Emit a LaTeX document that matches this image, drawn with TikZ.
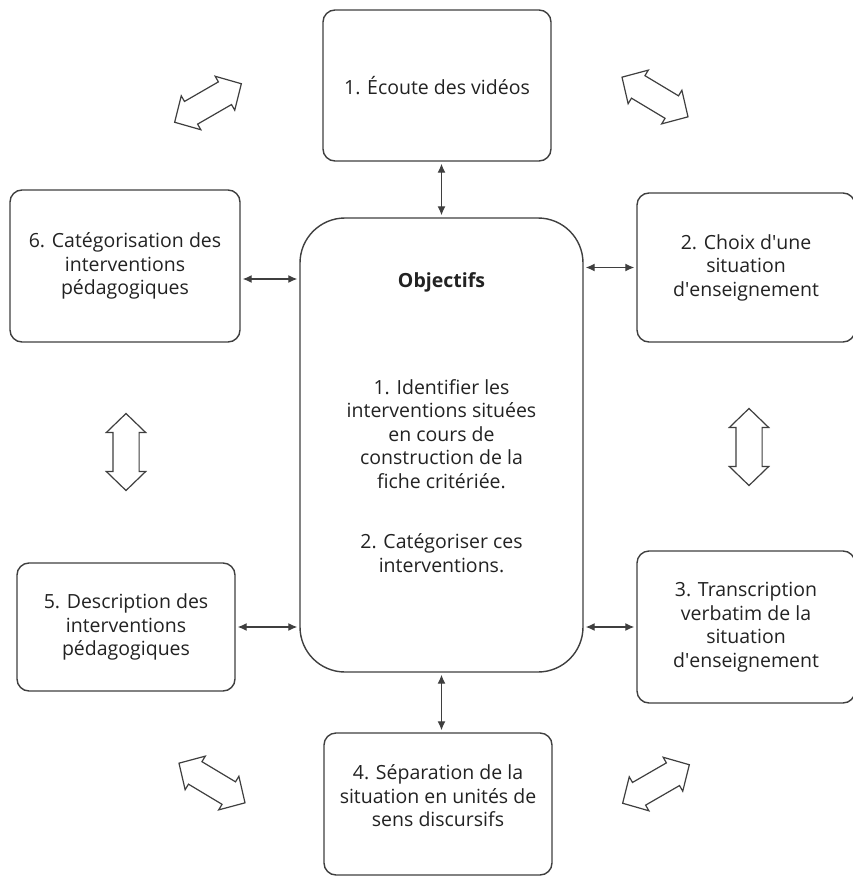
\documentclass[tikz,border=0pt]{standalone}
\usepackage{fontspec}
\setmainfont{Open Sans}
\usetikzlibrary{shapes.arrows, arrows.meta, calc}

\definecolor{boxgray}{HTML}{3F3F3F}
\definecolor{txtgray}{HTML}{222222}

\tikzset{
  stepbox/.style={draw=boxgray, line width=1.4pt, rounded corners=12pt, align=center,
    text=txtgray, font=\fontsize{19.5}{23.5}\selectfont, inner sep=0pt},
  goalbox/.style={stepbox, rounded corners=45pt},
  txt/.style={align=center, text=txtgray, font=\fontsize{19.5}{23.5}\selectfont},
  link/.style={draw=boxgray, line width=1.3pt, {Latex[length=9pt,width=8pt]}-{Latex[length=9pt,width=8pt]},
    shorten <=2pt, shorten >=2pt},
  bigarrow/.style={shape=double arrow, draw=boxgray, fill=white, line width=1.2pt,
    double arrow head extend=6.5pt, double arrow tip angle=92, minimum height=77pt,
    inner xsep=0pt, inner ysep=12.5pt}
}

\begin{document}
\begin{tikzpicture}[x=1pt, y=-1pt]
    \useasboundingbox (0,0) rectangle (853,880);

      % Central box
      \node[goalbox, minimum width=283pt, minimum height=454pt] (centre) at (441.5,445) {};
      \node[txt, font=\fontsize{19.5}{23.5}\selectfont\bfseries] (goal) at (441.5,282) {Objectifs};
      \node[txt] (goal1) at (441.5,434) {1. Identifier les\\interventions situées\\en cours de\\construction de la\\fiche critériée.};
      \node[txt] (goal2) at (441.5,553) {2. Catégoriser ces\\interventions.};

      % Steps around it
      \node[stepbox, minimum width=228pt, minimum height=151pt] (b1) at (437,85.5) {1. Écoute des vidéos};
      \node[stepbox, minimum width=218pt, minimum height=149pt] (b2) at (746,267.5) {2. Choix d\textquotesingle une\\situation\\d\textquotesingle enseignement};
      \node[stepbox, minimum width=218pt, minimum height=152pt] (b3) at (746,627) {3. Transcription\\verbatim de la\\situation\\d\textquotesingle enseignement};
      \node[stepbox, minimum width=228pt, minimum height=142pt] (b4) at (438,804) {};
      \node[txt] (t4) at (438,796) {4. Séparation de la\\situation en unités de\\sens discursifs};
      \node[stepbox, minimum width=218pt, minimum height=128pt] (b5) at (126,627) {5. Description des\\interventions\\pédagogiques};
      \node[stepbox, minimum width=230pt, minimum height=152pt] (b6) at (125,266) {6. Catégorisation des\\interventions\\pédagogiques};

      % Small arrows to the centre
      \coordinate (l6) at ([yshift=-13pt]b6.east);
      \coordinate (l2) at (b2.west);
      \coordinate (l5) at (b5.east);
      \coordinate (l3) at (b3.west);
      \draw[link] (b1.south -| centre.north) -- (centre.north);
      \draw[link] (centre.south) -- (b4.north -| centre.south);
      \draw[link] (l6) -- (l6 -| centre.west);
      \draw[link] (l5) -- (l5 -| centre.west);
      \draw[link] (l2 -| centre.east) -- (l2);
      \draw[link] (l3 -| centre.east) -- (l3);

      % Hollow arrows between the steps
      \node[bigarrow, rotate=30] (a61) at (208,103) {};
      \node[bigarrow, rotate=-31] (a12) at (655,97) {};
      \node[bigarrow, rotate=90] (a23) at (749,447) {};
      \node[bigarrow, rotate=30] (a34) at (656,784) {};
      \node[bigarrow, rotate=-31] (a45) at (212,783) {};
      \node[bigarrow, rotate=90] (a56) at (126,452) {};
\end{tikzpicture}
\end{document}
